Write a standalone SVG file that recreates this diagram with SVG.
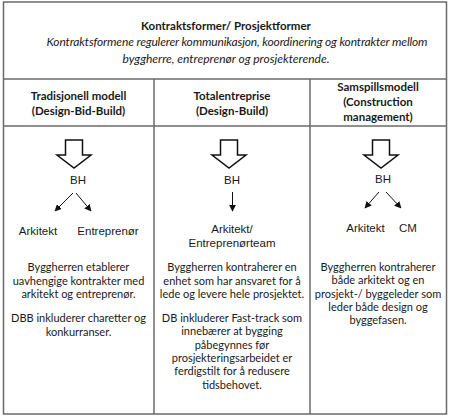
<svg xmlns="http://www.w3.org/2000/svg" width="454" height="418" viewBox="0 0 454 418">
<defs>
<marker id="ah" viewBox="0 0 10 10" refX="9" refY="5" markerWidth="7" markerHeight="7" orient="auto" markerUnits="userSpaceOnUse">
<path d="M0,0 L10,5 L0,10 Z" fill="#111"/>
</marker>
</defs>
<style>
.grid{fill:none;stroke:#6a6a6a;stroke-width:1.5}
.t{font-family:Lato,"Liberation Sans",sans-serif;fill:#1a1a1a;text-anchor:middle}
.b{font-weight:bold;font-size:11.5px}
.i{font-style:italic;font-size:12px}
.body{font-size:11px}
.a{font-family:"Liberation Sans",Arial,sans-serif;font-size:11.5px;fill:#1a1a1a;text-anchor:middle}
.big{fill:#fff;stroke:#111;stroke-width:1.5;stroke-linejoin:miter}
.sm{stroke:#111;stroke-width:1;fill:none;marker-end:url(#ah)}
</style>
<rect width="454" height="418" fill="#fff"/>
<g id="table">
<rect class="grid" x="3.5" y="2" width="443" height="412"/>
<line class="grid" x1="3.5" y1="79" x2="446.5" y2="79"/>
<line class="grid" x1="3.5" y1="126" x2="446.5" y2="126"/>
<line class="grid" x1="154" y1="79" x2="154" y2="414"/>
<line class="grid" x1="310" y1="79" x2="310" y2="414"/>
</g>
<g id="header">
<text class="t b" x="226" y="30">Kontraktsformer/ Prosjektformer</text>
<text class="t i" x="237" y="46" textLength="381" lengthAdjust="spacing">Kontraktsformene regulerer kommunikasjon, koordinering og kontrakter mellom</text>
<text class="t i" x="226" y="63">byggherre, entreprenør og prosjekterende.</text>
</g>
<g id="col1-header">
<text class="t b" x="78.5" y="100">Tradisjonell modell</text>
<text class="t b" x="78.5" y="115">(Design-Bid-Build)</text>
</g>
<g id="col2-header">
<text class="t b" x="232" y="100">Totalentreprise</text>
<text class="t b" x="232" y="115">(Design-Build)</text>
</g>
<g id="col3-header">
<text class="t b" x="378" y="91">Samspillsmodell</text>
<text class="t b" x="378" y="106">(Construction</text>
<text class="t b" x="378" y="121">management)</text>
</g>
<g id="connectors">
<path class="big" d="M65.5,140 H82.5 V155 H91 L74,168 L57,155 H65.5 Z"/>
<path class="big" d="M220.5,140 H237.5 V155 H246 L229,168 L212,155 H220.5 Z"/>
<path class="big" d="M372.5,140 H389.5 V155 H398 L381,168 L364,155 H372.5 Z"/>
<line class="sm" x1="73" y1="193" x2="55" y2="211"/>
<line class="sm" x1="76" y1="193" x2="91" y2="211"/>
<line class="sm" x1="232.5" y1="192" x2="232.5" y2="211"/>
<line class="sm" x1="379" y1="192" x2="365" y2="208"/>
<line class="sm" x1="386" y1="192" x2="401" y2="208"/>
</g>
<g id="bh1"><text class="a" x="78" y="184">BH</text></g>
<g id="arkitekt1"><text class="a" x="38" y="235">Arkitekt</text></g>
<g id="entreprenor1"><text class="a" x="108" y="235">Entreprenør</text></g>
<g id="bh2"><text class="a" x="232" y="184">BH</text></g>
<g id="arkitekt-entreprenorteam2">
<text class="a" x="232" y="233">Arkitekt/</text>
<text class="a" x="232" y="247">Entreprenørteam</text>
</g>
<g id="bh3"><text class="a" x="383" y="183">BH</text></g>
<g id="arkitekt3"><text class="a" x="365.5" y="232">Arkitekt</text></g>
<g id="cm3"><text class="a" x="408" y="232">CM</text></g>
<g id="col1-text">
<text class="t body" x="78.5" y="271">Byggherren etablerer</text>
<text class="t body" x="78.5" y="284.5">uavhengige kontrakter med</text>
<text class="t body" x="78.5" y="298">arkitekt og entreprenør.</text>
<text class="t body" x="78.5" y="322">DBB inkluderer charetter og</text>
<text class="t body" x="78.5" y="335.5">konkurranser.</text>
</g>
<g id="col2-text">
<text class="t body" x="232" y="271">Byggherren kontraherer en</text>
<text class="t body" x="232" y="284.5">enhet som har ansvaret for å</text>
<text class="t body" x="232" y="298">lede og levere hele prosjektet.</text>
<text class="t body" x="232" y="322">DB inkluderer Fast-track som</text>
<text class="t body" x="232" y="335.3">innebærer at bygging</text>
<text class="t body" x="232" y="348.6">påbegynnes før</text>
<text class="t body" x="232" y="361.9">prosjekteringsarbeidet er</text>
<text class="t body" x="232" y="375.2">ferdigstilt for å redusere</text>
<text class="t body" x="232" y="388.5">tidsbehovet.</text>
</g>
<g id="col3-text">
<text class="t body" x="378" y="271">Byggherren kontraherer</text>
<text class="t body" x="378" y="284.3">både arkitekt og en</text>
<text class="t body" x="378" y="297.6">prosjekt-/ byggeleder som</text>
<text class="t body" x="378" y="310.9">leder både design og</text>
<text class="t body" x="378" y="324.2">byggefasen.</text>
</g>
</svg>
